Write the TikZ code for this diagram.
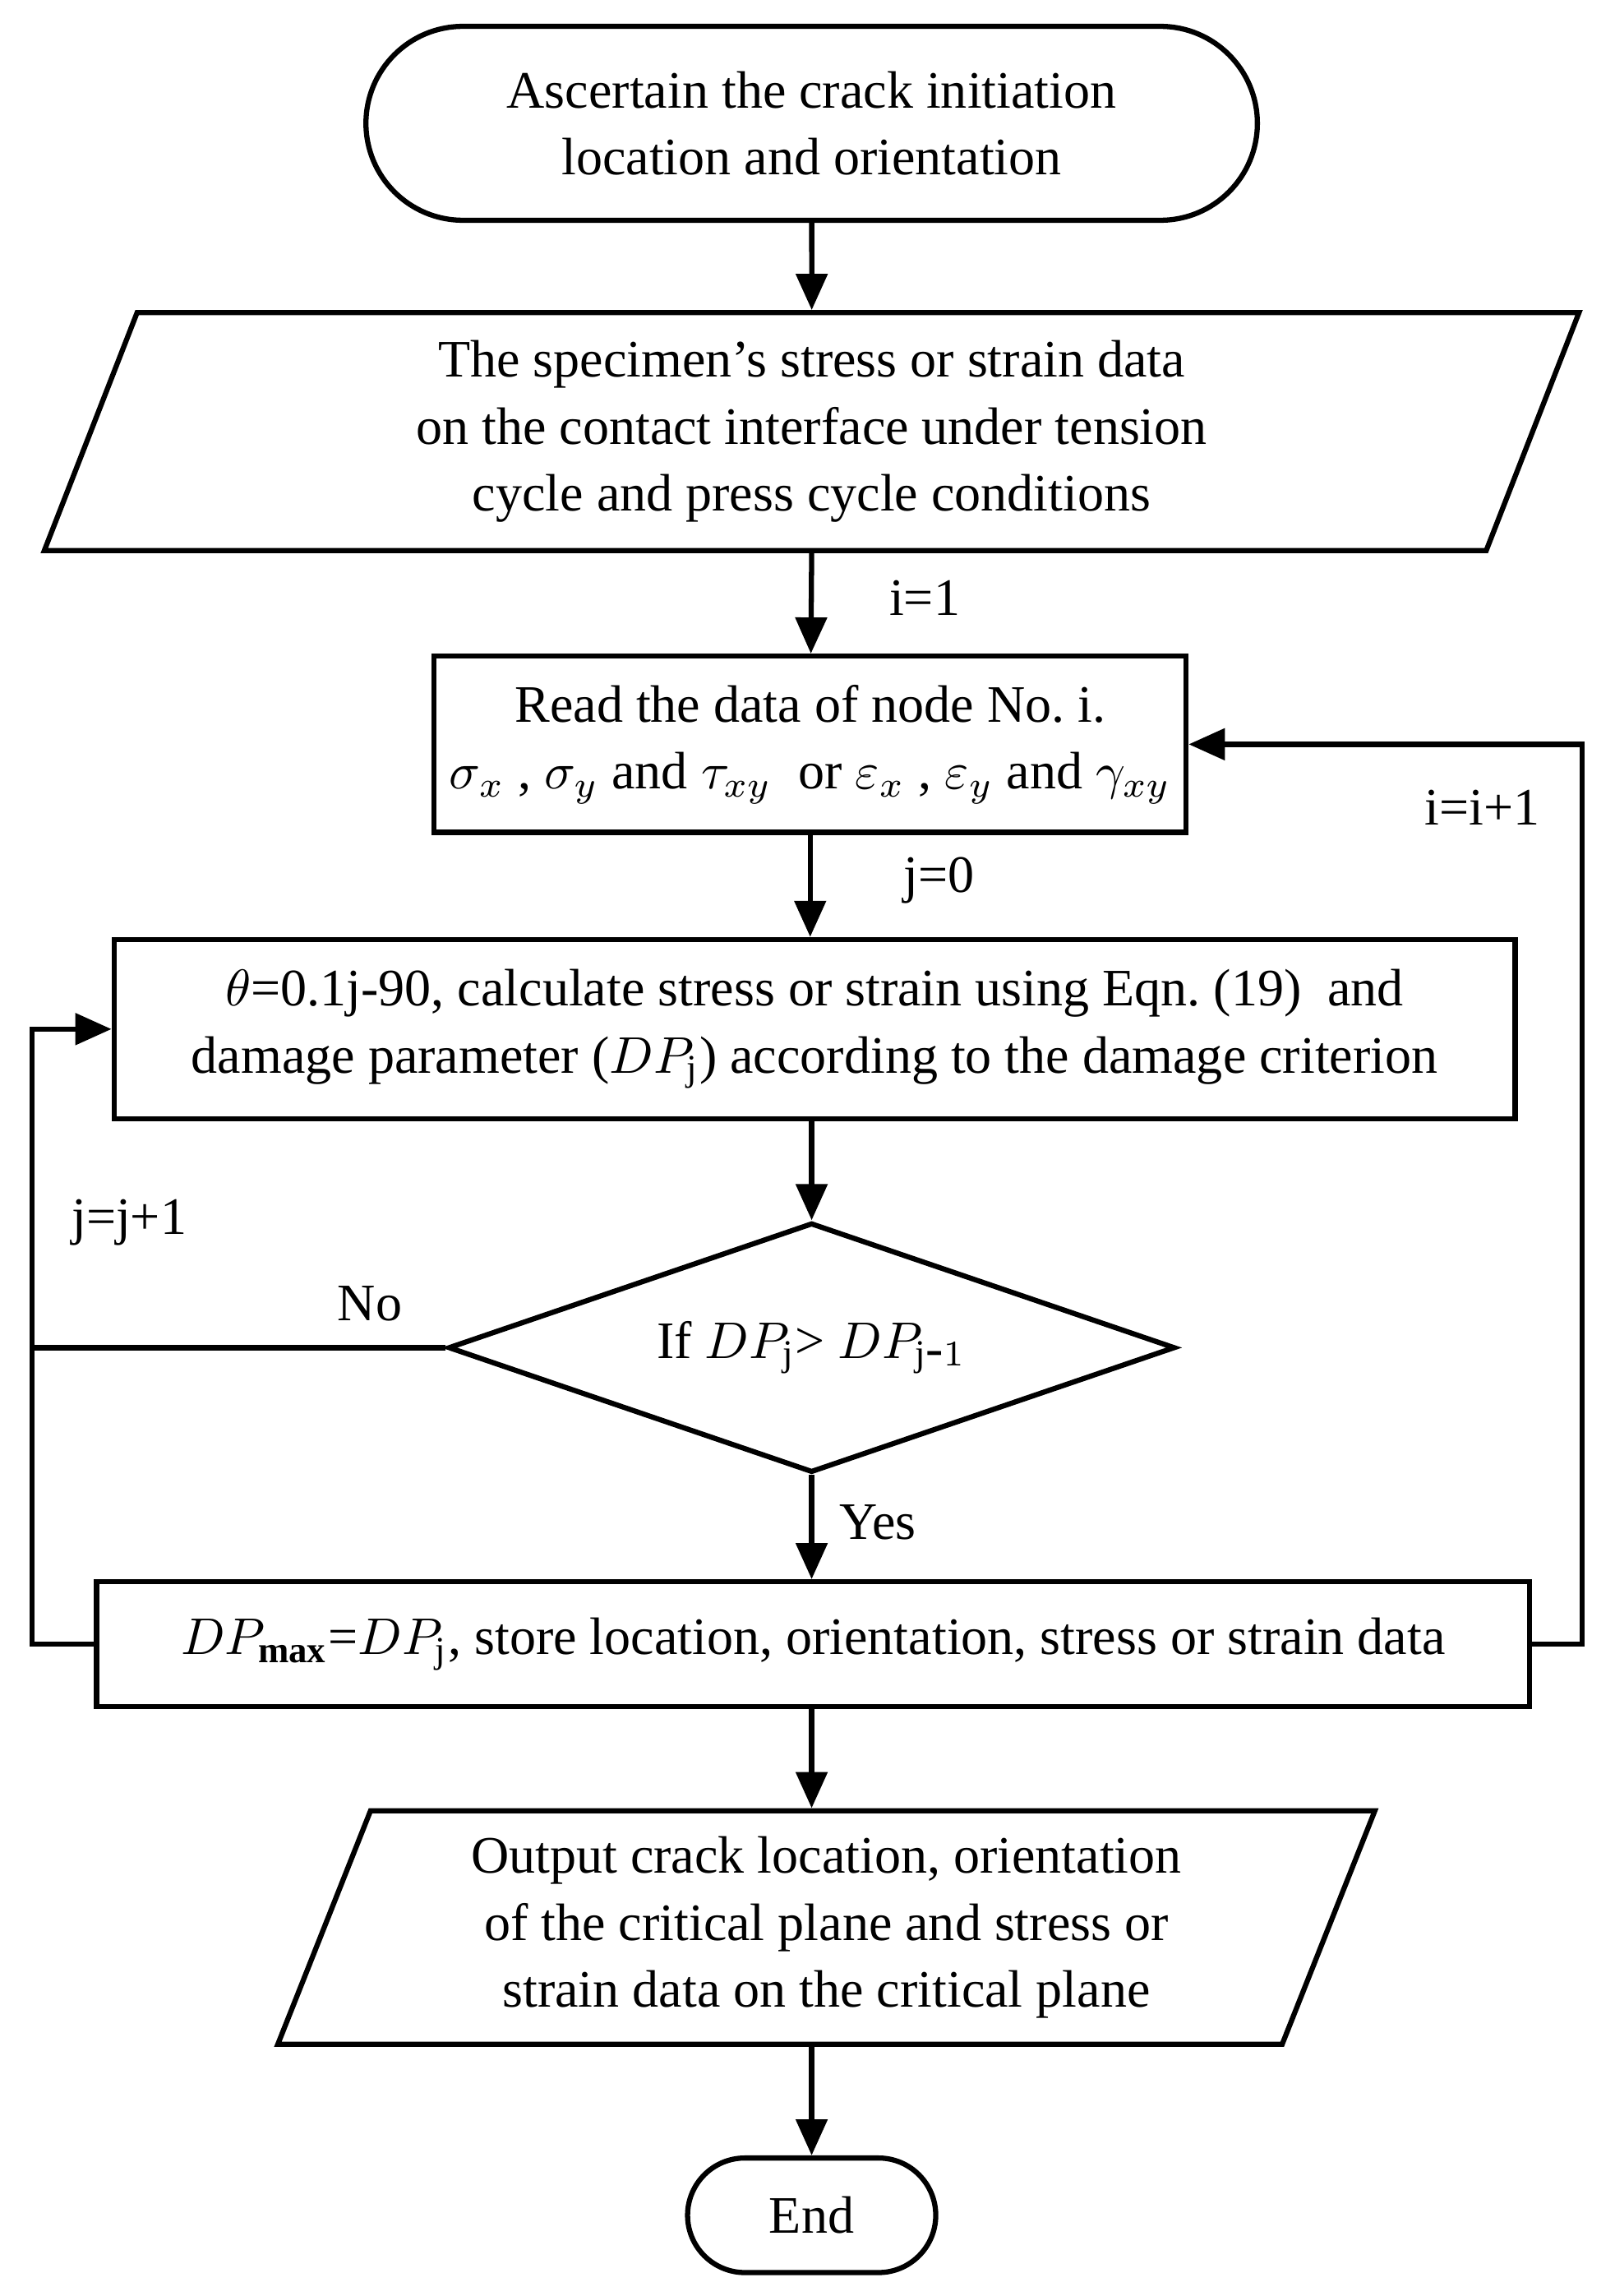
\documentclass[tikz,border=0pt]{standalone}
\usepackage{fontspec}
\setmainfont{Liberation Serif}
\usetikzlibrary{shapes.geometric,arrows.meta}
\begin{document}
\begin{tikzpicture}[x=0.01cm,y=-0.01cm,line width=1pt,>={Triangle[length=7pt,width=6pt]},
  font=\fontsize{10.2pt}{13pt}\selectfont,
  box/.style={draw,rectangle,align=center,inner sep=0},
  para/.style={draw,trapezium,trapezium left angle=63,trapezium right angle=117,
    trapezium stretches body,align=center,inner sep=0},
  lbl/.style={inner sep=1pt}]
\useasboundingbox (0,0) rectangle (1100,1564);

\node[box,rounded corners=0.66cm,minimum width=6.07cm,minimum height=1.32cm] (start) at (553,84)
  {Ascertain the crack initiation\\location and orientation};
\node[para,minimum width=10.45cm,minimum height=1.62cm] (data) at (553,294)
  {The specimen's stress or strain data\\on the contact interface under tension\\cycle and press cycle conditions};
\node[box,minimum width=5.12cm,minimum height=1.2cm] (read) at (552,507)
  {Read the data of node No.\ i.\\$\sigma_x$ , $\sigma_y$ and $\tau_{xy}$\ \ or $\varepsilon_x$ , $\varepsilon_y$ and $\gamma_{xy}$};
\node[box,minimum width=9.54cm,minimum height=1.22cm] (calc) at (555,701)
  {$\theta$=0.1j-90, calculate stress or strain using Eqn.\ (19)\ \ and\\damage parameter ($DP_{\mathrm{j}}$) according to the damage criterion};
\node[draw,diamond,aspect=2.91,minimum width=4.95cm,minimum height=1.7cm,inner sep=0] (cmp) at (553,918)
  {If $DP_{\mathrm{j}}$> $DP_{\mathrm{j}\mbox{-}1}$};
\node[box,minimum width=9.76cm,minimum height=0.85cm] (store) at (554,1120)
  {$DP_{\mathbf{max}}$=$DP_{\mathrm{j}}$, store location, orientation, stress or strain data};
\node[para,minimum width=7.47cm,minimum height=1.59cm] (out) at (563,1313)
  {Output crack location, orientation\\of the critical plane and stress or\\strain data on the critical plane};
\node[box,rounded corners=0.39cm,minimum width=1.69cm,minimum height=0.78cm] (end) at (553,1509) {End};

\coordinate (r1) at (1078,1120);
\coordinate (r2) at (1078,507);
\coordinate (l1) at (22,1120);
\coordinate (l2) at (22,701);
\coordinate (l3) at (22,918);

\draw[->] (start) -- (data);
\draw[->] (data.south -| start) -- (read);
\draw[->] (read) -- (calc.north -| read);
\draw[->] (calc.south -| cmp) -- (cmp);
\draw[->] (cmp) -- (store.north -| cmp);
\draw[->] (store.south -| cmp) -- (out.north -| cmp);
\draw[->] (out.south -| cmp) -- (end);
\draw[->] (store.east) -- (r1) -- (r2) -- (read.east);
\draw[->] (store.west) -- (l1) -- (l2) -- (calc.west);
\draw (cmp.west) -- (l3);

\node[lbl] (i1) at (630,407) {i=1};
\node[lbl] (j0) at (640,600) {j=0};
\node[lbl] (ii) at (1010,550) {i=i+1};
\node[lbl] (jj) at (88,833) {j=j+1};
\node[lbl] (no) at (252,888) {No};
\node[lbl] (yes) at (598,1037) {Yes};
\end{tikzpicture}
\end{document}
